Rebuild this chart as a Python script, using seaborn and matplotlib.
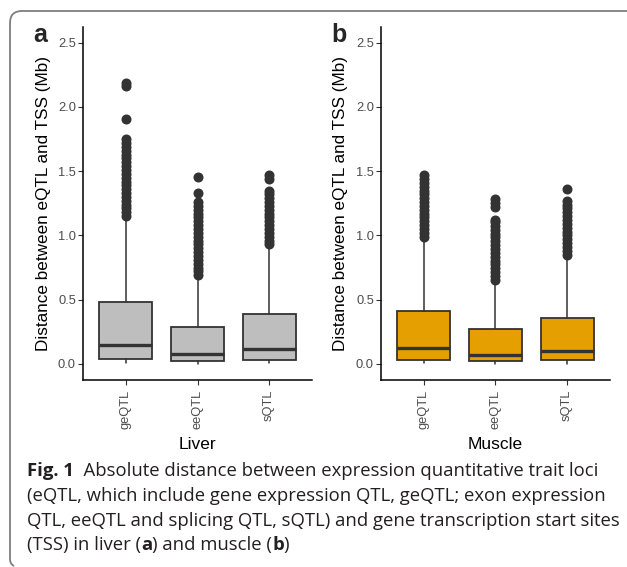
import matplotlib
matplotlib.use("Agg")
import matplotlib.pyplot as plt
import seaborn as sns
from matplotlib.path import Path
from matplotlib.patches import PathPatch

# box summaries (Mb)
categories = ['geQTL', 'eeQTL', 'sQTL']

liver_q1 = [0.039, 0.026, 0.033]
liver_med = [0.150, 0.078, 0.117]
liver_q3 = [0.482, 0.285, 0.391]
liver_lo = [0.005, 0.003, 0.004]
liver_hi = [1.12, 0.66, 0.90]
liver_fliers = [
    [1.15, 1.18, 1.21, 1.24, 1.27, 1.30, 1.33, 1.36, 1.39, 1.42, 1.45, 1.48,
     1.51, 1.54, 1.57, 1.60, 1.63, 1.66, 1.69, 1.72, 1.75, 1.91, 2.16, 2.185],
    [0.69, 0.72, 0.75, 0.78, 0.81, 0.84, 0.87, 0.90, 0.93, 0.96, 0.99, 1.02,
     1.05, 1.08, 1.11, 1.14, 1.17, 1.20, 1.23, 1.26, 1.33, 1.455],
    [0.93, 0.96, 0.99, 1.02, 1.05, 1.08, 1.11, 1.14, 1.17, 1.20, 1.23, 1.26,
     1.29, 1.32, 1.35, 1.44, 1.47],
]

muscle_q1 = [0.033, 0.026, 0.028]
muscle_med = [0.124, 0.070, 0.103]
muscle_q3 = [0.414, 0.272, 0.357]
muscle_lo = [0.004, 0.003, 0.003]
muscle_hi = [0.96, 0.62, 0.82]
muscle_fliers = [
    [0.99, 1.02, 1.05, 1.08, 1.11, 1.14, 1.17, 1.20, 1.23, 1.26, 1.29, 1.32,
     1.35, 1.38, 1.41, 1.44, 1.47],
    [0.655, 0.685, 0.715, 0.745, 0.775, 0.805, 0.835, 0.865, 0.895, 0.925,
     0.955, 0.985, 1.015, 1.045, 1.075, 1.105, 1.12, 1.22, 1.25, 1.285],
    [0.85, 0.88, 0.91, 0.94, 0.97, 1.00, 1.03, 1.06, 1.09, 1.12, 1.15, 1.18,
     1.21, 1.24, 1.27, 1.362],
]

yticks = [0.0, 0.5, 1.0, 1.5, 2.0, 2.5]
ylab = 'Distance between eQTL and TSS (Mb)'

# caption pieces, (text, bold?)
caption = [
    [('Fig. 1', True), ('  Absolute distance between expression quantitative trait loci', False)],
    [('(eQTL, which include gene expression QTL, geQTL; exon expression', False)],
    [('QTL, eeQTL and splicing QTL, sQTL) and gene transcription start sites', False)],
    [('(TSS) in liver (', False), ('a', True), (') and muscle (', False), ('b', True), (')', False)],
]

sns.set_style("ticks")
plt.rcParams['font.family'] = ['Liberation Sans', 'DejaVu Sans']

W, H = 627, 567
fig = plt.figure(figsize=(W / 100, H / 100), dpi=100)
fig.patch.set_facecolor('white')

line_col = '#333333'


def make_stats(q1, med, q3, lo, hi, fliers):
    out = []
    for i in range(len(categories)):
        out.append({'q1': q1[i], 'med': med[i], 'q3': q3[i],
                    'whislo': lo[i], 'whishi': hi[i],
                    'fliers': fliers[i], 'label': categories[i]})
    return out


def draw_panel(left, stats, fill, xlab, letter, ylab_x):
    ax = fig.add_axes([left / W, 1 - 380 / H, 229 / W, 353.3 / H])
    ax.bxp(stats, positions=[0, 1, 2], widths=0.74, patch_artist=True,
           showcaps=False,
           boxprops=dict(facecolor=fill, edgecolor=line_col, linewidth=1.3),
           medianprops=dict(color=line_col, linewidth=2.4),
           whiskerprops=dict(color=line_col, linewidth=1.1),
           flierprops=dict(marker='o', markerfacecolor=line_col,
                           markeredgecolor=line_col, markersize=6.2))
    ax.set_xlim(-0.6, 2.6)
    ax.set_ylim(-0.125, 2.625)
    ax.set_yticks(yticks)
    ax.set_yticklabels([f'{v:.1f}' for v in yticks])
    ax.set_xticks([0, 1, 2])
    ax.set_xticklabels(categories, rotation=90)
    sns.despine(ax=ax)
    for s in ['left', 'bottom']:
        ax.spines[s].set_color('black')
        ax.spines[s].set_linewidth(1.1)
    ax.tick_params(axis='both', direction='out', length=3.6, width=0.8,
                   color=line_col, labelcolor='#4d4d4d', labelsize=9.3)
    ax.tick_params(axis='y', pad=1.5)
    ax.tick_params(axis='x', pad=3.5)
    ax.set_xlabel(xlab, fontsize=12.5, color='black')
    ax.xaxis.label.set_va('baseline')
    ax.xaxis.set_label_coords(0.5, -0.196)
    ax.set_ylabel(ylab, fontsize=12.3, color='black')
    ax.yaxis.label.set_va('baseline')
    ax.yaxis.set_label_coords(ylab_x, 0.5)
    ax.set_facecolor('white')
    fig.text((left - 50) / W, 1 - 42 / H, letter, fontsize=18, fontweight='bold',
             ha='left', va='baseline')
    return ax


draw_panel(83, make_stats(liver_q1, liver_med, liver_q3, liver_lo, liver_hi, liver_fliers),
           '#bebebe', 'Liver', 'a', -0.1515)
draw_panel(381, make_stats(muscle_q1, muscle_med, muscle_q3, muscle_lo, muscle_hi, muscle_fliers),
           '#e69f00', 'Muscle', 'b', -0.157)

# caption, pieces laid out one after another
renderer = fig.canvas.get_renderer()
cap_col = '#231f20'
cap_y = [476, 501, 525.5, 550]
for pieces, yy in zip(caption, cap_y):
    x = 27.0
    for txt, bold in pieces:
        t = fig.text(x / W, 1 - yy / H, txt, fontsize=13.3, family='Open Sans',
                     fontweight='bold' if bold else 'normal',
                     color=cap_col, ha='left', va='baseline')
        x += t.get_window_extent(renderer=renderer).width

# rounded frame around the figure
def fp(x, y):
    return (x / W, 1 - y / H)

verts = [fp(627, 11), fp(22, 11), fp(10, 11), fp(10, 23), fp(10, 559),
         fp(10, 564), fp(14, 566)]
codes = [Path.MOVETO, Path.LINETO, Path.CURVE3, Path.CURVE3, Path.LINETO,
         Path.CURVE3, Path.CURVE3]
frame = PathPatch(Path(verts, codes), transform=fig.transFigure,
                  facecolor='none', edgecolor='#7f7f7f', linewidth=1.3)
fig.add_artist(frame)

fig.savefig('out.png', dpi=100)
